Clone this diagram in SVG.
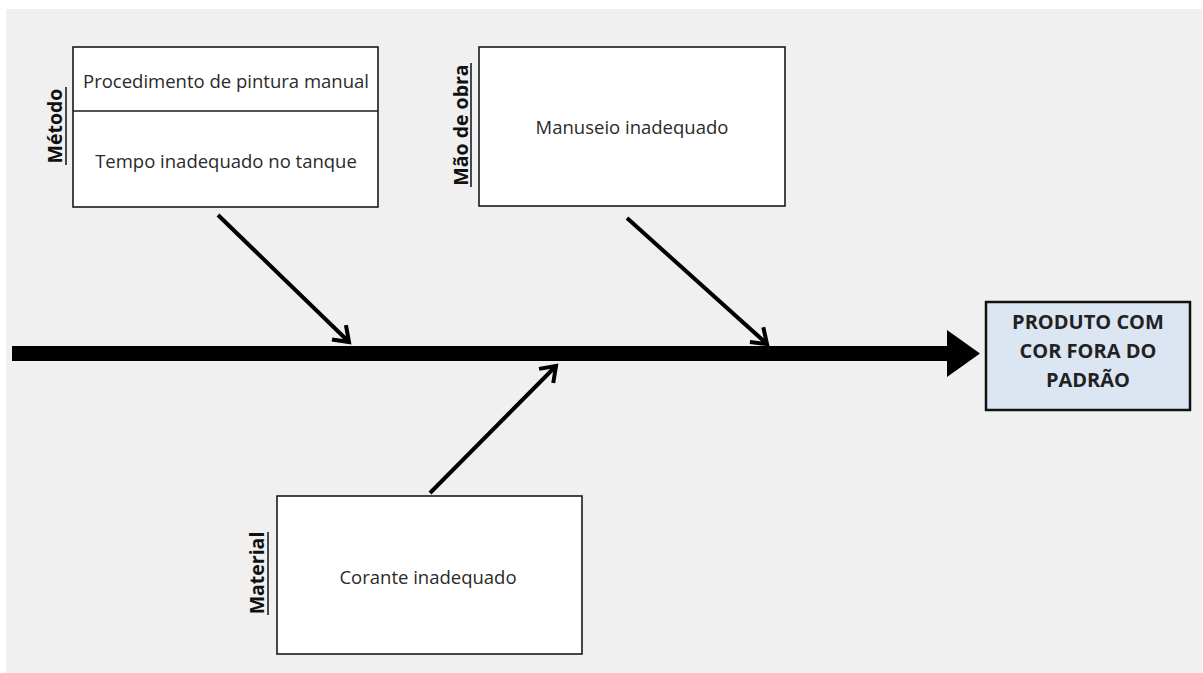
<svg xmlns="http://www.w3.org/2000/svg" width="1203" height="673" viewBox="0 0 1203 673">
<defs>
<style>
.box{fill:#ffffff;stroke:#1a1a1a;stroke-width:1.6}
.res{fill:#dce6f2;stroke:#111;stroke-width:2.5}
.t{font-family:"Open Sans","Liberation Sans",sans-serif;font-size:18.5px;fill:#2a2a2a;text-anchor:middle}
.lab{font-family:"Open Sans","Liberation Sans",sans-serif;font-size:19.5px;font-weight:bold;fill:#111;text-anchor:middle}
.rt{font-family:"Open Sans","Liberation Sans",sans-serif;font-size:20px;font-weight:bold;fill:#222;text-anchor:middle}
.ul{stroke:#111;stroke-width:1.5}
.con{stroke:#000;stroke-width:4;fill:none;marker-end:url(#open)}
</style>
<marker id="open" markerUnits="userSpaceOnUse" markerWidth="26" markerHeight="26" viewBox="-22 -13 26 26" refX="0" refY="0" orient="auto">
<polyline points="-14,-10 0,0 -14,10" fill="none" stroke="#000" stroke-width="4" stroke-linejoin="miter"/>
</marker>
</defs>
<rect x="0" y="0" width="1203" height="673" fill="#ffffff"/>
<rect x="6" y="9" width="1196" height="664" fill="#f0f0f0"/>

<g id="spine">
<rect x="12" y="346" width="937" height="15" fill="#000"/>
<polygon points="947,330 980,353.5 947,377" fill="#000"/>
</g>

<g id="metodo">
<rect class="box" x="73" y="47" width="305" height="160"/>
<line x1="73" y1="111" x2="378" y2="111" stroke="#1a1a1a" stroke-width="1.6"/>
<text class="t" x="226" y="88">Procedimento de pintura manual</text>
<text class="t" x="226" y="168">Tempo inadequado no tanque</text>
<text class="lab" transform="translate(62,126) rotate(-90)">Método</text>
<line class="ul" x1="66" y1="87" x2="66" y2="165"/>
</g>

<g id="maodeobra">
<rect class="box" x="479" y="47" width="306" height="159"/>
<text class="t" x="632" y="134">Manuseio inadequado</text>
<text class="lab" transform="translate(468,125) rotate(-90)">Mão de obra</text>
<line class="ul" x1="471" y1="63" x2="471" y2="187"/>
</g>

<g id="material">
<rect class="box" x="277" y="496" width="305" height="158"/>
<text class="t" x="428" y="584">Corante inadequado</text>
<text class="lab" transform="translate(264,573) rotate(-90)">Material</text>
<line class="ul" x1="268" y1="532" x2="268" y2="615"/>
</g>

<g id="resultado">
<rect class="res" x="986" y="302" width="204" height="108"/>
<text class="rt" x="1088" y="329">PRODUTO COM</text>
<text class="rt" x="1088" y="358">COR FORA DO</text>
<text class="rt" x="1088" y="387">PADRÃO</text>
</g>

<g id="connectors">
<line class="con" x1="218" y1="215" x2="349" y2="342"/>
<line class="con" x1="627" y1="218" x2="767" y2="344"/>
<line class="con" x1="430" y1="493" x2="556" y2="366"/>
</g>
</svg>
